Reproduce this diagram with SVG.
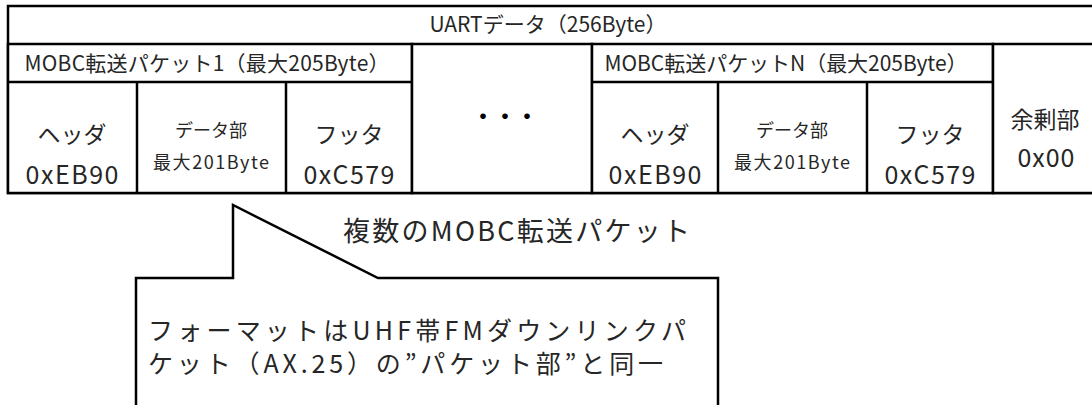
<svg xmlns="http://www.w3.org/2000/svg" width="1092" height="405" viewBox="0 0 1092 405">
<style>
.box{fill:#fff;stroke:#000;stroke-width:2.5}
.ln{stroke:#000;stroke-width:2.5;fill:none}
text{font-family:"Noto Sans CJK JP","Noto Sans",sans-serif;fill:#262626;text-anchor:middle}
.t20{font-size:21px}
.t22{font-size:23px}
.t25{font-size:25px}
.t17{font-size:18px}
.t24{font-size:27px}
.t26{font-size:25px}
.lft{text-anchor:start}
</style>
<rect width="1092" height="405" fill="#fff"/>
<g id="uart">
<rect class="box" x="8" y="6" width="1100" height="187"/>
<text class="t20" x="548" y="32" textLength="237" lengthAdjust="spacing">UARTデータ（256Byte）</text>
</g>
<g id="packet1">
<rect class="box" x="8" y="44" width="404" height="149"/>
<line class="ln" x1="8" y1="82" x2="412" y2="82"/>
<line class="ln" x1="137" y1="82" x2="137" y2="193"/>
<line class="ln" x1="286" y1="82" x2="286" y2="193"/>
<text class="t20" x="207" y="71" textLength="365" lengthAdjust="spacing">MOBC転送パケット1（最大205Byte）</text>
<text class="t22" x="72" y="143">ヘッダ</text>
<text class="t25" x="72" y="184" textLength="93" lengthAdjust="spacing">0xEB90</text>
<text class="t17" x="211" y="137">データ部</text>
<text class="t17" x="211" y="169" textLength="116" lengthAdjust="spacing">最大201Byte</text>
<text class="t22" x="349" y="143">フッタ</text>
<text class="t25" x="349" y="184" textLength="91" lengthAdjust="spacing">0xC579</text>
</g>
<g id="ellipsis">
<rect class="box" x="412" y="44" width="180" height="149"/>
<text x="505" y="124" style="font-size:22px;font-weight:bold;fill:#000">・・・</text>
</g>
<g id="packetN">
<rect class="box" x="592" y="44" width="401" height="149"/>
<line class="ln" x1="592" y1="82" x2="993" y2="82"/>
<line class="ln" x1="718" y1="82" x2="718" y2="193"/>
<line class="ln" x1="867" y1="82" x2="867" y2="193"/>
<text class="t20" x="786" y="71" textLength="363" lengthAdjust="spacing">MOBC転送パケットN（最大205Byte）</text>
<text class="t22" x="655" y="143">ヘッダ</text>
<text class="t25" x="655" y="184" textLength="93" lengthAdjust="spacing">0xEB90</text>
<text class="t17" x="792" y="137">データ部</text>
<text class="t17" x="792" y="169" textLength="116" lengthAdjust="spacing">最大201Byte</text>
<text class="t22" x="930" y="143">フッタ</text>
<text class="t25" x="930" y="184" textLength="91" lengthAdjust="spacing">0xC579</text>
</g>
<g id="remainder">
<rect class="box" x="993" y="44" width="115" height="149"/>
<text class="t22" x="1045" y="128">余剰部</text>
<text class="t25" x="1046" y="167" textLength="57" lengthAdjust="spacing">0x00</text>
</g>
<g id="connectors"></g>
<g id="multi-label">
<text class="t24 lft" x="343" y="241" textLength="347" lengthAdjust="spacing">複数のMOBC転送パケット</text>
</g>
<g id="callout">
<path class="box" d="M136,412 L136,278 L233,278 L233,205 L378,278 L718,278 L718,412"/>
<text class="t26 lft" x="148" y="340" textLength="538" lengthAdjust="spacing">フォーマットはUHF帯FMダウンリンクパ</text>
<text class="t26 lft" x="148" y="373" textLength="515" lengthAdjust="spacing">ケット（AX.25）の”パケット部”と同一</text>
</g>
</svg>
